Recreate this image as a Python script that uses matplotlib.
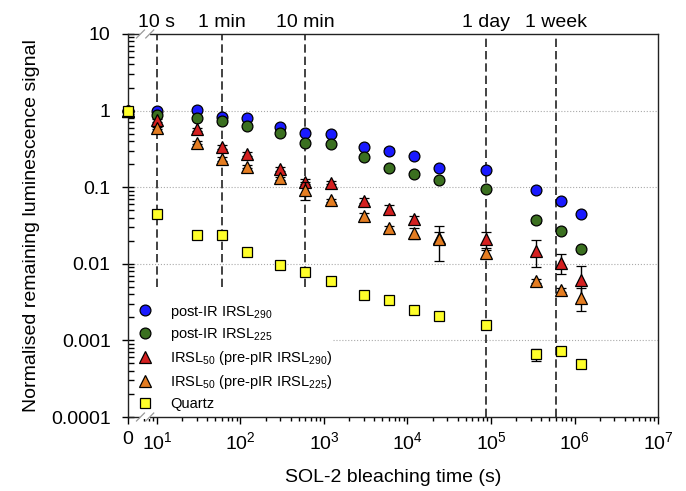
import matplotlib
matplotlib.use('Agg')
import matplotlib.pyplot as plt
import matplotlib.transforms as mtransforms
from matplotlib.lines import Line2D
from matplotlib.patches import Rectangle
import numpy as np

plt.rcParams['font.family'] = ['Liberation Sans', 'DejaVu Sans']
plt.rcParams['mathtext.default'] = 'regular'

# bleaching times (s); 0 is drawn at the left edge of the broken axis
times = [0, 10, 30, 60, 120, 300, 600, 1200, 3000, 6000, 12000, 24000,
         86400, 345600, 691200, 1209600]

pir290 = [1.0, 1.0, 1.02, 0.83, 0.80, 0.61, 0.51, 0.50, 0.335, 0.30, 0.257,
          0.18, 0.17, 0.091, 0.067, 0.045]
pir290_err = [0, 0.03, 0.03, 0.03, 0.02, 0.03, 0.02, 0.03, 0.02, 0.02, 0.01,
              0.008, 0.01, 0.004, 0.003, 0.002]

pir225 = [1.0, 0.87, 0.80, 0.74, 0.63, 0.51, 0.38, 0.37, 0.245, 0.18, 0.15,
          0.123, 0.096, 0.037, 0.027, 0.0155]
pir225_err = [0, 0.03, 0.02, 0.03, 0.02, 0.02, 0.015, 0.015, 0.008, 0.006,
              0.005, 0.004, 0.003, 0.003, 0.001, 0.0006]

irsl50_290 = [1.0, 0.75, 0.57, 0.335, 0.27, 0.175, 0.118, 0.115, 0.067, 0.052,
              0.038, 0.022, 0.021, 0.0147, 0.0103, 0.0062]
irsl50_290_err = [0, 0.03, 0.03, 0.02, 0.015, 0.01, 0.009, 0.005, 0.005, 0.006,
                  0.004, 0.004, 0.005, 0.0055, 0.003, 0.0031]

irsl50_225 = [1.0, 0.59, 0.38, 0.235, 0.185, 0.13, 0.092, 0.068, 0.042, 0.029,
              0.025, 0.021, 0.0138, 0.006, 0.0046, 0.0036]
irsl50_225_err = [0, 0.02, 0.015, 0.012, 0.008, 0.006, 0.024, 0.003, 0.004,
                  0.002, 0.004, 0.01, 0.0015, 0.0004, 0.0003, 0.0012]

quartz = [1.0, 0.045, 0.024, 0.0235, 0.0142, 0.0096, 0.0077, 0.006, 0.0039,
          0.0034, 0.0025, 0.0021, 0.0016, 0.00066, 0.00073, 0.00049]
quartz_err = [0, 0.002, 0.001, 0.0012, 0.0006, 0.0004, 0.0004, 0.0003, 0.0002,
              0.0002, 0.0001, 0.0001, 0.0001, 0.00012, 0.00004, 0.00003]

# reference times marked with dashed lines
mark_times = [10, 60, 600, 86400, 604800]
mark_labels = ['10 s', '1 min', '10 min', '1 day', '1 week']

X_ZERO = 4.5  # where t = 0 sits on the log axis


def main():
    fig = plt.figure(figsize=(6.86, 4.91), dpi=100)
    ax = fig.add_axes([0.1866, 0.1507, 0.7726, 0.7801])
    ax.set_xscale('log')
    ax.set_yscale('log')
    ax.set_xlim(X_ZERO, 1e7)
    ax.set_ylim(1e-4, 10)

    x = [X_ZERO if t == 0 else t for t in times]

    series = [
        (pir290, pir290_err, 'o', '#1a1aff', 7.8, 'post-IR IRSL$_{290}$'),
        (pir225, pir225_err, 'o', '#3b7020', 7.8, 'post-IR IRSL$_{225}$'),
        (irsl50_290, irsl50_290_err, '^', '#d42020', 8.3, 'IRSL$_{50}$ (pre-pIR IRSL$_{290}$)'),
        (irsl50_225, irsl50_225_err, '^', '#e47d22', 8.3, 'IRSL$_{50}$ (pre-pIR IRSL$_{225}$)'),
        (quartz, quartz_err, 's', '#ffff2a', 7.2, 'Quartz'),
    ]

    handles = []
    for i, (vals, errs, m, c, ms, lab) in enumerate(series):
        ax.errorbar(x, vals, yerr=errs, fmt=m, ms=ms, mfc=c, mec='black',
                    mew=0.9, ecolor='black', elinewidth=1, capsize=3.5,
                    capthick=1, zorder=3 + i, clip_on=False)
        handles.append(Line2D([], [], ls='none', marker=m, ms=ms, mfc=c,
                              mec='black', mew=0.9, label=lab))

    # dotted horizontal grid
    for y in [1, 0.1, 0.01]:
        ax.axhline(y, color='#aaaaaa', ls=':', lw=0.8, zorder=1)
    ax.axhline(0.001, xmin=0.387, color='#aaaaaa', ls=':', lw=0.8, zorder=1)

    # dashed time markers
    trans = mtransforms.blended_transform_factory(ax.transData, ax.transAxes)
    for t, lab in zip(mark_times, mark_labels):
        ybot = 1e-4 if t > 1e4 else 0.005
        ax.plot([t, t], [ybot, 10], color='#222222', lw=1.2,
                ls=(0, (5, 2.4)), zorder=2)
        ax.text(t, 1.018, lab, transform=trans, ha='center', va='baseline',
                fontsize=14)

    # ticks
    xt = [X_ZERO, 1e1, 1e2, 1e3, 1e4, 1e5, 1e6, 1e7]
    xl = ['0'] + ['$10^{%d}$' % k for k in range(1, 8)]
    ax.set_xticks(xt)
    ax.set_xticklabels(xl)
    minors = [m * 10 ** k for k in range(1, 7) for m in range(2, 10)] + [7, 8, 9]
    ax.set_xticks(minors, minor=True)
    ax.set_xticklabels([], minor=True)

    yt = [1e-4, 1e-3, 1e-2, 1e-1, 1, 10]
    ax.set_yticks(yt)
    ax.set_yticklabels(['0.0001', '0.001', '0.01', '0.1', '1', '10'])
    ax.set_yticks([m * 10.0 ** k for k in range(-4, 1) for m in range(2, 10)],
                  minor=True)
    ax.set_yticklabels([], minor=True)

    ax.tick_params(axis='x', which='major', direction='out', length=5,
                   width=1, labelsize=14, pad=5)
    ax.tick_params(axis='x', which='minor', direction='out', length=3, width=1)
    ax.tick_params(axis='y', which='major', direction='inout', length=9,
                   width=1, labelsize=14, pad=8)
    ax.tick_params(axis='y', which='minor', direction='in', length=4, width=1)

    for s in ax.spines.values():
        s.set_linewidth(1)
        s.set_color('#222222')

    # axis break marks between 0 and 10^1
    for yy in [0, 1]:
        ax.add_patch(Rectangle((0.022, yy - 0.006), 0.020, 0.012,
                               transform=ax.transAxes, fc='white', ec='none',
                               clip_on=False, zorder=20))
        for cx in [0.0235, 0.041]:
            ax.plot([cx - 0.0075, cx + 0.0075], [yy - 0.0104, yy + 0.0104],
                    transform=ax.transAxes, color='#999999', lw=0.9,
                    clip_on=False, zorder=21)

    ax.set_xlabel('SOL-2 bleaching time (s)', fontsize=14, labelpad=12)
    ax.set_ylabel('Normalised remaining luminescence signal', fontsize=14,
                  labelpad=8)

    ax.legend(handles=handles, loc='lower left', bbox_to_anchor=(0.019, 0.016),
              frameon=False, fontsize=10.5, handlelength=1.0, handletextpad=1.2,
              labelspacing=0.4, borderpad=0, borderaxespad=0)

    fig.savefig('out.png', dpi=100)


if __name__ == "__main__":
    main()
